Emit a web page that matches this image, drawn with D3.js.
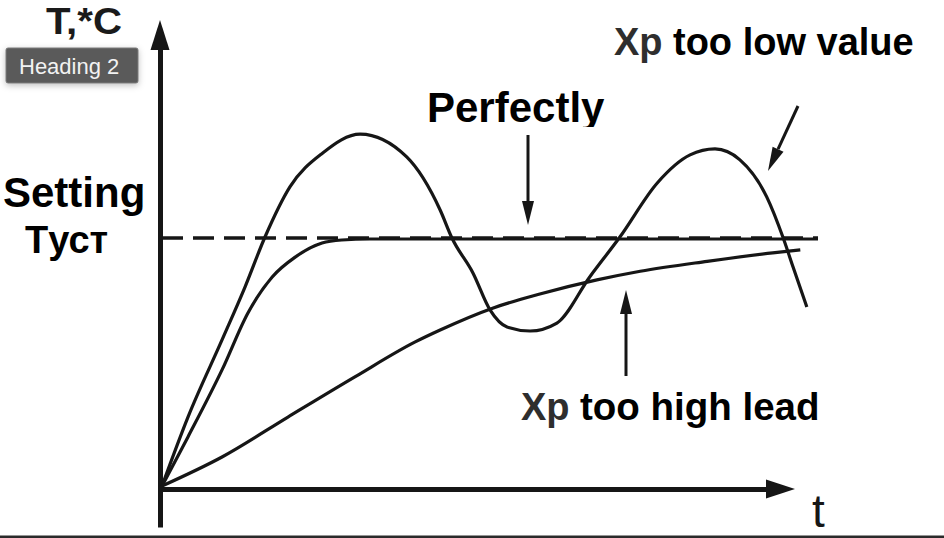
<!DOCTYPE html>
<html>
<head>
<meta charset="utf-8">
<script src="https://cdn.jsdelivr.net/npm/d3@7"></script>
<style>
  html, body { margin: 0; padding: 0; background: #fff; }
  svg { display: block; }
  text { font-family: "Liberation Sans", Arial, Helvetica, sans-serif; }
</style>
</head>
<body>
<svg id="chart" width="944" height="538"></svg>
<script>
// ---- Data (t in relative time units 0..100, T in % of setpoint) ----
const setpoint = 100;
const perfectT = [0, 3.96, 9.15, 13.1, 16.8, 20.3, 24.4, 27.4, 31.7, 100];
const perfectV = [0, 19.8, 46.8, 69.8, 84.3, 92.3, 98.0, 99.2, 99.6, 99.6];
const lowXpT = [0, 3.96, 9.15, 12.65, 15.7, 19.5, 24.5, 30.2, 37.3, 42.4, 44.2, 47.4, 50, 52.6, 56.1, 60.2, 65.2, 69.8, 75.5, 80.5, 84.3, 88.1, 92.2, 94.7, 96.2, 98.3];
const lowXpV = [0, 27.8, 58.9, 80.2, 100.4, 120.6, 134.3, 141.9, 132.7, 111.3, 100, 85.9, 71, 64.1, 62.5, 65.7, 84.3, 100.4, 122.2, 133.5, 135.9, 131.5, 116.5, 100, 88.3, 72.2];
const highXpT = [0, 9.15, 19.2, 29.4, 38.6, 42.4, 50.5, 57.6, 66.3, 72.9, 83.1, 93.1, 97.3];
const highXpV = [0, 11.7, 27.8, 44.0, 58.1, 62.9, 71.8, 77.4, 83.1, 86.6, 90.6, 94.0, 95.2];
const labels = {
  yAxis: "T,*C", xAxis: "t", badge: "Heading 2",
  setting1: "Setting", setting2: "Tуст",
  perfect: "Perfectly", xp: "Xp", low: "too low value", high: "too high lead"
};

const svg = d3.select("#chart");
const x = d3.scaleLinear().domain([0, 100]).range([162, 818]);
const y = d3.scaleLinear().domain([0, 100]).range([486, 238]);
const ink = "#161616";

const zip = (a, b) => a.map((v, i) => [v, b[i]]);
const line = d3.line().x(d => x(d[0])).y(d => y(d[1])).curve(d3.curveMonotoneX);

// ---- Axes (no ticks) ----
const xAxisScale = d3.scaleLinear().domain([0, 1]).range([158, 772]);
const yAxisScale = d3.scaleLinear().domain([0, 1]).range([527, 46]);
svg.append("g").attr("transform", "translate(0,489)")
  .call(d3.axisBottom(xAxisScale).tickValues([]).tickSizeOuter(0))
  .select(".domain").attr("stroke", ink).attr("stroke-width", 5);
svg.append("g").attr("transform", "translate(160,0)")
  .call(d3.axisLeft(yAxisScale).tickValues([]).tickSizeOuter(0))
  .select(".domain").attr("stroke", ink).attr("stroke-width", 5);
// arrow heads
svg.append("path").attr("fill", ink)
  .attr("d", `M795,489 L766,479.5 L766,498.5 Z`);
svg.append("path").attr("fill", ink)
  .attr("d", `M160,20 L150.5,50 L169.5,50 Z`);

// ---- Setpoint dashed line ----
svg.append("line")
  .attr("x1", x(0)).attr("x2", x(100))
  .attr("y1", y(setpoint)).attr("y2", y(setpoint))
  .attr("stroke", ink).attr("stroke-width", 3.4)
  .attr("stroke-dasharray", "21 10");

// ---- Curves ----
[zip(perfectT, perfectV), zip(lowXpT, lowXpV), zip(highXpT, highXpV)].forEach(d => {
  svg.append("path").attr("d", line(d))
    .attr("fill", "none").attr("stroke", ink)
    .attr("stroke-width", 3.2).attr("stroke-linejoin", "round").attr("stroke-linecap", "butt");
});

// ---- Pointer arrows ----
function arrow(x1, y1, x2, y2) {
  const ang = Math.atan2(y2 - y1, x2 - x1);
  const len = 24, hw = 6;
  const bx = x2 - len * Math.cos(ang), by = y2 - len * Math.sin(ang);
  const px = -Math.sin(ang) * hw, py = Math.cos(ang) * hw;
  svg.append("line").attr("x1", x1).attr("y1", y1).attr("x2", bx).attr("y2", by)
    .attr("stroke", ink).attr("stroke-width", 3);
  svg.append("path").attr("fill", ink)
    .attr("d", `M${x2},${y2} L${bx + px},${by + py} L${bx - px},${by - py} Z`);
}
arrow(528, 135, 528, 225);
arrow(626, 376, 626, 290);
arrow(798, 106, 768, 171);

// ---- Texts ----
const bold = (t, xx, yy, size, fill) => svg.append("text")
  .attr("x", xx).attr("y", yy).attr("font-size", size)
  .attr("font-weight", "bold").attr("fill", fill || "#000").text(t);

bold(labels.yAxis, 46, 34, 37, "#1a1a1a").attr("textLength", 76).attr("lengthAdjust", "spacingAndGlyphs");
bold(labels.setting1, 3, 207, 42);
bold(labels.setting2, 25, 253, 38);

svg.append("clipPath").attr("id", "pclip")
  .append("rect").attr("x", 400).attr("y", 60).attr("width", 240).attr("height", 67);
bold(labels.perfect, 427, 122, 42).attr("clip-path", "url(#pclip)");

bold(labels.xp, 614, 55, 38, "#2e2e2e");
bold(labels.low, 673, 55, 38);
bold(labels.xp, 521, 420, 38, "#2e2e2e");
bold(labels.high, 580, 420, 38.5);

svg.append("text").attr("x", 812).attr("y", 527)
  .attr("font-size", 46).attr("fill", ink).text(labels.xAxis);

// ---- "Heading 2" badge ----
const defs = svg.append("defs");
const f = defs.append("filter").attr("id", "sh").attr("x", "-20%").attr("y", "-30%").attr("width", "140%").attr("height", "180%");
f.append("feDropShadow").attr("dx", 0).attr("dy", 2).attr("stdDeviation", 3).attr("flood-color", "#000").attr("flood-opacity", 0.25);
svg.append("rect").attr("x", 6).attr("y", 48).attr("width", 132).attr("height", 35)
  .attr("rx", 2).attr("fill", "#5a5a5a").attr("stroke", "#7a7a7a").attr("stroke-width", 1)
  .attr("filter", "url(#sh)");
svg.append("text").attr("x", 19).attr("y", 74).attr("font-size", 22)
  .attr("fill", "#f2f2f2").text(labels.badge);

// ---- bottom edge line ----
svg.append("rect").attr("x", 0).attr("y", 535.5).attr("width", 944).attr("height", 2.5).attr("fill", "#2a2a2a");
</script>
</body>
</html>
